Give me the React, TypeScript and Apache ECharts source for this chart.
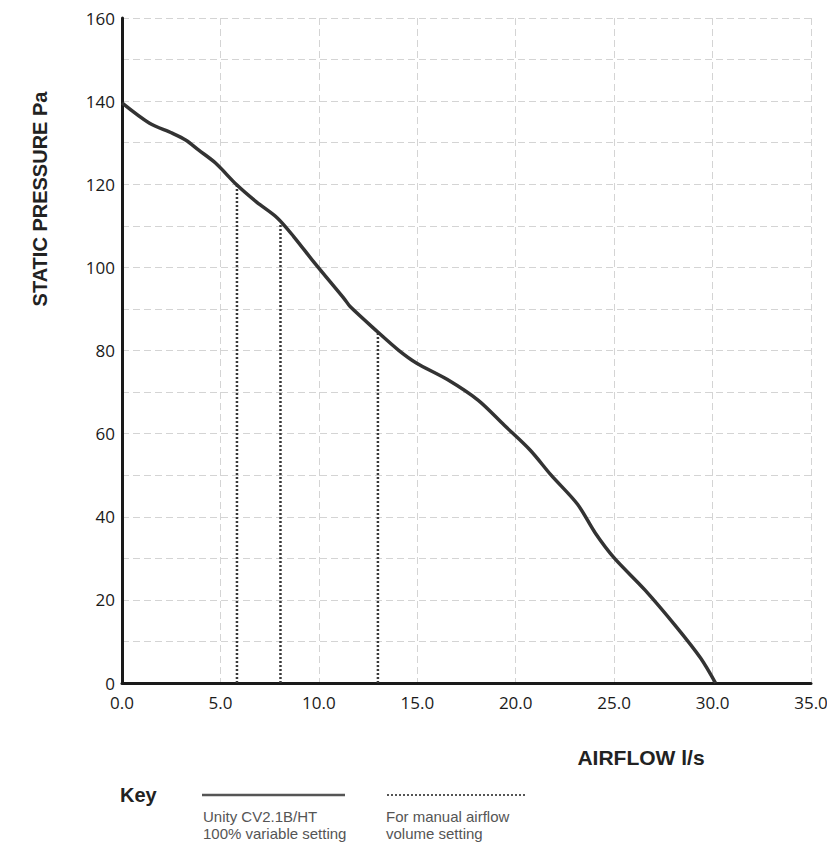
import React, { useEffect, useRef } from "react";
import * as echarts from "echarts";

const xTicks = [0, 5, 10, 15, 20, 25, 30, 35];
const yTicks = [0, 20, 40, 60, 80, 100, 120, 140, 160];
const curveX = [0, 1.4, 2.55, 3.25, 3.9, 4.75, 5.84, 6.84, 7.89, 8.74, 9.79, 11.33, 11.6, 12.98, 14.04, 14.95, 16.53, 18.1, 19.42, 20.74, 21.8, 23.14, 24.04, 25.0, 26.56, 28.16, 29.39, 30.15];
const curveY = [139.6, 134.7, 132.3, 130.6, 128.2, 125.1, 119.8, 115.7, 111.9, 107.3, 101.0, 92.2, 90.5, 84.5, 80.1, 77.0, 73.0, 68.0, 62.0, 56.0, 50.0, 43.0, 36.1, 30.1, 22.4, 13.5, 6.0, 0];
const manualX = [5.84, 8.05, 13.0];
const manualTop = [119.6, 110.4, 84.6];
const xTitle = "AIRFLOW l/s";
const yTitle = "STATIC PRESSURE Pa";
const keyTitle = "Key";
const keyLabels = [
  ["Unity CV2.1B/HT", "100% variable setting"],
  ["For manual airflow", "volume setting"],
];

export default function App() {
  const ref = useRef<HTMLDivElement>(null);
  useEffect(() => {
    if (!ref.current) return;
    const chart = echarts.init(ref.current, null, { renderer: "svg" });
    const tickFont = "'Open Sans', 'DejaVu Sans', sans-serif";
    const boldFont = "'Liberation Sans', Arial, sans-serif";
    const series: any[] = [
      {
        type: "line",
        data: curveX.map((x, i) => [x, curveY[i]]),
        showSymbol: false,
        smooth: 0.3,
        lineStyle: { color: "#333333", width: 3.5 },
        z: 5,
      },
    ];
    manualX.forEach((x, i) => {
      series.push({
        type: "line",
        data: [[x, 0], [x, manualTop[i]]],
        showSymbol: false,
        lineStyle: { color: "#3a3a3a", width: 2.5, type: [2, 2] },
        z: 4,
      });
    });
    const keyText = (text: string, x: number, y: number) => ({
      type: "text",
      x,
      y,
      style: { text, font: "15px 'Liberation Sans', Arial, sans-serif", fill: "#555", verticalAlign: "middle" },
    });
    chart.setOption({
      animation: false,
      grid: { left: 114, top: 10, right: 24, bottom: 161, containLabel: false },
      xAxis: {
        type: "value",
        min: 0,
        max: 35,
        interval: 5,
        axisLine: { show: true, lineStyle: { color: "#1a1a1a", width: 3 } },
        axisTick: { show: false },
        axisLabel: {
          color: "#1a1a1a",
          fontSize: 17,
          fontFamily: tickFont,
          margin: 11,
          formatter: (v: number) => (xTicks.includes(v) ? v.toFixed(1) : ""),
        },
        splitLine: { show: true, lineStyle: { color: "#d4d4d4", type: [7, 4], width: 1 } },
      },
      yAxis: {
        type: "value",
        min: 0,
        max: 160,
        interval: 10,
        axisLine: { show: true, lineStyle: { color: "#1a1a1a", width: 3 } },
        axisTick: { show: false },
        axisLabel: {
          color: "#1a1a1a",
          fontSize: 17,
          fontFamily: tickFont,
          margin: 7,
          formatter: (v: number) => (yTicks.includes(v) ? String(v) : ""),
        },
        splitLine: { show: true, lineStyle: { color: "#d4d4d4", type: [7, 4], width: 1 } },
      },
      series,
      graphic: [
        {
          type: "text",
          x: 633,
          y: 749,
          style: { text: xTitle, font: "bold 21px " + boldFont, fill: "#222", align: "center", verticalAlign: "middle" },
        },
        {
          type: "text",
          x: 32,
          y: 191,
          rotation: Math.PI / 2,
          style: { text: yTitle, font: "bold 20px " + boldFont, fill: "#222", align: "center", verticalAlign: "middle" },
        },
        {
          type: "text",
          x: 112,
          y: 787,
          style: { text: keyTitle, font: "bold 20px " + boldFont, fill: "#222", verticalAlign: "middle" },
        },
        { type: "line", shape: { x1: 194, y1: 787, x2: 337, y2: 787 }, style: { stroke: "#555", lineWidth: 2.5 } },
        { type: "line", shape: { x1: 379, y1: 787, x2: 519, y2: 787 }, style: { stroke: "#555", lineWidth: 2, lineDash: [2, 2] } },
        keyText(keyLabels[0][0], 195, 808),
        keyText(keyLabels[0][1], 195, 825),
        keyText(keyLabels[1][0], 378, 808),
        keyText(keyLabels[1][1], 378, 825),
      ],
    });
    return () => chart.dispose();
  }, []);
  return <div ref={ref} style={{ width: 827, height: 836 }} />;
}
